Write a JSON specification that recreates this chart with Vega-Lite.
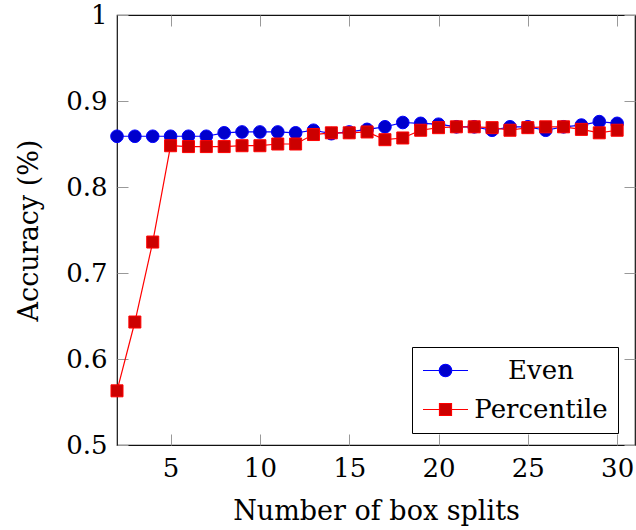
{
  "$schema": "https://vega.github.io/schema/vega-lite/v6.json",
  "width": 518,
  "height": 430,
  "autosize": "none",
  "padding": {"left": 117, "top": 15, "right": 1, "bottom": 85},
  "config": {
    "font": "DejaVu Serif",
    "view": {"stroke": "#111", "strokeWidth": 1.2},
    "axis": {
      "domain": false,
      "grid": false,
      "tickSize": -11,
      "tickColor": "#999",
      "tickWidth": 1,
      "labelFont": "DejaVu Serif",
      "labelFontSize": 26,
      "labelColor": "#000",
      "labelPadding": 21,
      "titleFont": "DejaVu Serif",
      "titleFontSize": 27,
      "titleFontWeight": "normal",
      "titleColor": "#000"
    }
  },
  "data": {"values": [
    {"x": 2, "series": "Even", "acc": 0.859},
    {"x": 3, "series": "Even", "acc": 0.859},
    {"x": 4, "series": "Even", "acc": 0.859},
    {"x": 5, "series": "Even", "acc": 0.859},
    {"x": 6, "series": "Even", "acc": 0.859},
    {"x": 7, "series": "Even", "acc": 0.859},
    {"x": 8, "series": "Even", "acc": 0.863},
    {"x": 9, "series": "Even", "acc": 0.864},
    {"x": 10, "series": "Even", "acc": 0.864},
    {"x": 11, "series": "Even", "acc": 0.864},
    {"x": 12, "series": "Even", "acc": 0.863},
    {"x": 13, "series": "Even", "acc": 0.866},
    {"x": 14, "series": "Even", "acc": 0.862},
    {"x": 15, "series": "Even", "acc": 0.864},
    {"x": 16, "series": "Even", "acc": 0.867},
    {"x": 17, "series": "Even", "acc": 0.870},
    {"x": 18, "series": "Even", "acc": 0.875},
    {"x": 19, "series": "Even", "acc": 0.874},
    {"x": 20, "series": "Even", "acc": 0.873},
    {"x": 21, "series": "Even", "acc": 0.870},
    {"x": 22, "series": "Even", "acc": 0.870},
    {"x": 23, "series": "Even", "acc": 0.866},
    {"x": 24, "series": "Even", "acc": 0.870},
    {"x": 25, "series": "Even", "acc": 0.870},
    {"x": 26, "series": "Even", "acc": 0.866},
    {"x": 27, "series": "Even", "acc": 0.870},
    {"x": 28, "series": "Even", "acc": 0.872},
    {"x": 29, "series": "Even", "acc": 0.876},
    {"x": 30, "series": "Even", "acc": 0.874},
    {"x": 2, "series": "Percentile", "acc": 0.563},
    {"x": 3, "series": "Percentile", "acc": 0.643},
    {"x": 4, "series": "Percentile", "acc": 0.736},
    {"x": 5, "series": "Percentile", "acc": 0.848},
    {"x": 6, "series": "Percentile", "acc": 0.847},
    {"x": 7, "series": "Percentile", "acc": 0.847},
    {"x": 8, "series": "Percentile", "acc": 0.847},
    {"x": 9, "series": "Percentile", "acc": 0.848},
    {"x": 10, "series": "Percentile", "acc": 0.848},
    {"x": 11, "series": "Percentile", "acc": 0.850},
    {"x": 12, "series": "Percentile", "acc": 0.850},
    {"x": 13, "series": "Percentile", "acc": 0.861},
    {"x": 14, "series": "Percentile", "acc": 0.863},
    {"x": 15, "series": "Percentile", "acc": 0.863},
    {"x": 16, "series": "Percentile", "acc": 0.864},
    {"x": 17, "series": "Percentile", "acc": 0.855},
    {"x": 18, "series": "Percentile", "acc": 0.857},
    {"x": 19, "series": "Percentile", "acc": 0.866},
    {"x": 20, "series": "Percentile", "acc": 0.869},
    {"x": 21, "series": "Percentile", "acc": 0.870},
    {"x": 22, "series": "Percentile", "acc": 0.870},
    {"x": 23, "series": "Percentile", "acc": 0.869},
    {"x": 24, "series": "Percentile", "acc": 0.866},
    {"x": 25, "series": "Percentile", "acc": 0.869},
    {"x": 26, "series": "Percentile", "acc": 0.870},
    {"x": 27, "series": "Percentile", "acc": 0.870},
    {"x": 28, "series": "Percentile", "acc": 0.867},
    {"x": 29, "series": "Percentile", "acc": 0.863},
    {"x": 30, "series": "Percentile", "acc": 0.866}
  ]},
  "resolve": {"axis": {"x": "independent", "y": "independent"}},
  "layer": [
    {
      "transform": [{"filter": "datum.series === 'Even'"}],
      "mark": {"type": "line", "stroke": "#0000ff", "strokeWidth": 1.2},
      "encoding": {
        "x": {"field": "x", "type": "quantitative", "scale": {"domain": [2, 31], "nice": false, "zero": false},
              "axis": {"orient": "bottom", "values": [5, 10, 15, 20, 25, 30], "title": "Number of box splits", "titleY": 74, "titleBaseline": "alphabetic"}},
        "y": {"field": "acc", "type": "quantitative", "scale": {"domain": [0.5, 1], "nice": false, "zero": false},
              "axis": {"orient": "left", "values": [0.5, 0.6, 0.7, 0.8, 0.9, 1], "format": ".1~f", "title": "Accuracy (%)", "titleX": -80, "titleY": 215, "titleAngle": -90, "titleAlign": "center", "titleBaseline": "alphabetic"}}
      }
    },
    {
      "transform": [{"filter": "datum.series === 'Even'"}],
      "mark": {"type": "point", "filled": true, "shape": "circle", "fill": "#0000cc", "stroke": "#0000ff", "strokeWidth": 1, "opacity": 1, "size": 160},
      "encoding": {
        "x": {"field": "x", "type": "quantitative", "axis": {"orient": "top", "values": [5, 10, 15, 20, 25, 30], "labels": false, "title": null}},
        "y": {"field": "acc", "type": "quantitative", "axis": {"orient": "right", "values": [0.5, 0.6, 0.7, 0.8, 0.9, 1], "labels": false, "title": null}}
      }
    },
    {
      "transform": [{"filter": "datum.series === 'Percentile'"}],
      "mark": {"type": "line", "stroke": "#ff0000", "strokeWidth": 1.2},
      "encoding": {
        "x": {"field": "x", "type": "quantitative", "axis": null},
        "y": {"field": "acc", "type": "quantitative", "axis": null}
      }
    },
    {
      "transform": [{"filter": "datum.series === 'Percentile'"}],
      "mark": {"type": "point", "filled": true, "shape": "square", "fill": "#cc0000", "stroke": "#ff0000", "strokeWidth": 1, "opacity": 1, "size": 144},
      "encoding": {
        "x": {"field": "x", "type": "quantitative", "axis": null},
        "y": {"field": "acc", "type": "quantitative", "axis": null}
      }
    },
    {
      "transform": [{"filter": "false"}],
      "mark": {"type": "point", "filled": true, "opacity": 1, "strokeWidth": 1.2},
      "encoding": {
        "x": {"field": "x", "type": "quantitative", "axis": null},
        "y": {"field": "acc", "type": "quantitative", "axis": null},
        "shape": {"field": "series", "type": "nominal",
          "scale": {"domain": ["Even", "Percentile"], "range": ["M-1,0H0.3M1.3,0H2.6M0.3,0A0.5,0.5 0 1,0 1.3,0A0.5,0.5 0 1,0 0.3,0Z", "M-1,0H0.32M1.28,0H2.6M0.32,-0.48H1.28V0.48H0.32Z"]},
          "legend": {
            "title": null, "orient": "none", "legendX": 295, "legendY": 332,
            "strokeColor": "#000", "fillColor": "#fff", "padding": 10, "rowPadding": 12,
            "symbolSize": 625, "symbolStrokeWidth": 1.2, "symbolOpacity": 1,
            "labelFont": "DejaVu Serif", "labelFontSize": 26, "labelColor": "#000",
            "labelAlign": "center", "labelOffset": 92, "labelLimit": 300
          }},
        "fill": {"field": "series", "type": "nominal",
          "scale": {"domain": ["Even", "Percentile"], "range": ["#0000cc", "#cc0000"]}},
        "stroke": {"field": "series", "type": "nominal",
          "scale": {"domain": ["Even", "Percentile"], "range": ["#0000ff", "#ff0000"]}}
      }
    }
  ]
}
